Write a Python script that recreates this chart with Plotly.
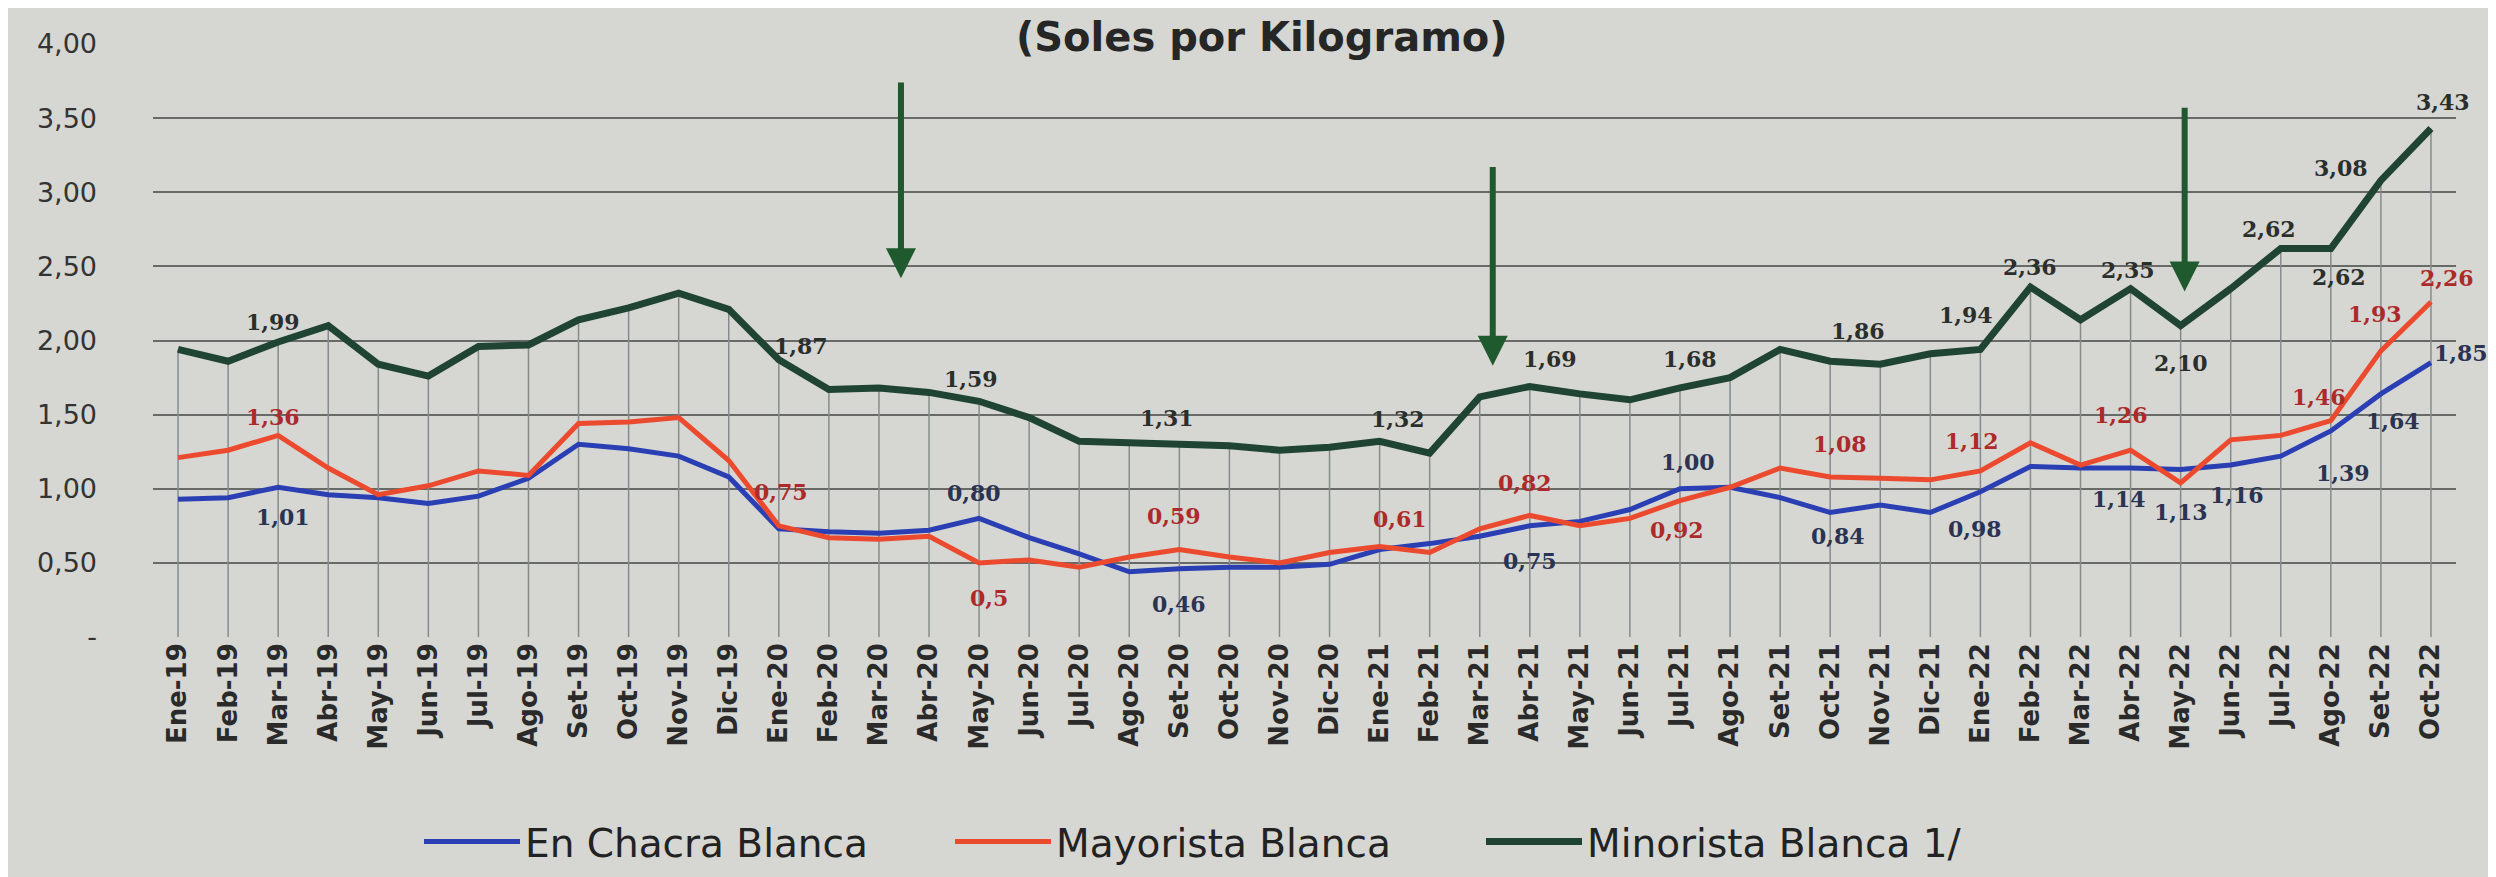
import plotly.graph_objects as go

# ---------------- data ----------------
months = ["Ene-19","Feb-19","Mar-19","Abr-19","May-19","Jun-19","Jul-19","Ago-19","Set-19","Oct-19","Nov-19","Dic-19",
          "Ene-20","Feb-20","Mar-20","Abr-20","May-20","Jun-20","Jul-20","Ago-20","Set-20","Oct-20","Nov-20","Dic-20",
          "Ene-21","Feb-21","Mar-21","Abr-21","May-21","Jun-21","Jul-21","Ago-21","Set-21","Oct-21","Nov-21","Dic-21",
          "Ene-22","Feb-22","Mar-22","Abr-22","May-22","Jun-22","Jul-22","Ago-22","Set-22","Oct-22"]

chacra = [0.93, 0.94, 1.01, 0.96, 0.94, 0.90, 0.95, 1.07, 1.30, 1.27, 1.22, 1.08,
          0.73, 0.71, 0.70, 0.72, 0.80, 0.67, 0.56, 0.44, 0.46, 0.47, 0.47, 0.49,
          0.59, 0.63, 0.68, 0.75, 0.78, 0.86, 1.00, 1.01, 0.94, 0.84, 0.89, 0.84,
          0.98, 1.15, 1.14, 1.14, 1.13, 1.16, 1.22, 1.39, 1.64, 1.85]

mayorista = [1.21, 1.26, 1.36, 1.14, 0.96, 1.02, 1.12, 1.09, 1.44, 1.45, 1.48, 1.19,
             0.75, 0.67, 0.66, 0.68, 0.50, 0.52, 0.47, 0.54, 0.59, 0.54, 0.50, 0.57,
             0.61, 0.57, 0.73, 0.82, 0.75, 0.80, 0.92, 1.01, 1.14, 1.08, 1.07, 1.06,
             1.12, 1.31, 1.16, 1.26, 1.04, 1.33, 1.36, 1.46, 1.93, 2.26]

minorista = [1.94, 1.86, 1.99, 2.10, 1.84, 1.76, 1.96, 1.97, 2.14, 2.22, 2.32, 2.21,
             1.87, 1.67, 1.68, 1.65, 1.59, 1.48, 1.32, 1.31, 1.31, 1.29, 1.26, 1.28,
             1.32, 1.24, 1.62, 1.69, 1.64, 1.60, 1.68, 1.75, 1.94, 1.86, 1.84, 1.91,
             1.94, 2.36, 2.14, 2.35, 2.10, 2.35, 2.62, 2.62, 3.08, 3.43]

series_names = ["En Chacra Blanca", "Mayorista Blanca", "Minorista Blanca 1/"]

# data labels (index of month, text shown)
lbl_chacra_idx = [2, 16, 20, 27, 30, 33, 36, 39, 40, 41, 43, 44, 45]
lbl_chacra_txt = ["1,01", "0,80", "0,46", "0,75", "1,00", "0,84", "0,98", "1,14", "1,13", "1,16", "1,39", "1,64", "1,85"]

lbl_mayorista_idx = [2, 12, 16, 20, 24, 27, 30, 33, 36, 39, 43, 44, 45]
lbl_mayorista_txt = ["1,36", "0,75", "0,5", "0,59", "0,61", "0,82", "0,92", "1,08", "1,12", "1,26", "1,46", "1,93", "2,26"]

lbl_minorista_idx = [2, 12, 16, 20, 24, 27, 30, 33, 36, 37, 39, 40, 42, 43, 44, 45]
lbl_minorista_txt = ["1,99", "1,87", "1,59", "1,31", "1,32", "1,69", "1,68", "1,86", "1,94", "2,36", "2,35", "2,10",
                     "2,62", "2,62", "3,08", "3,43"]

y_tickvals = [0, 0.5, 1.0, 1.5, 2.0, 2.5, 3.0, 3.5, 4.0]
y_ticktext = ["-", "0,50", "1,00", "1,50", "2,00", "2,50", "3,00", "3,50", "4,00"]

title_text = "(Soles por Kilogramo)"

# ---------------- styles ----------------
BG = "#d6d6d2"
GRID = "#676a67"
C_BLUE = "#2b3fb5"
C_RED = "#ec4a2e"
C_GREEN = "#1f4434"
LBL_FONT = "DejaVu Serif"

# label pixel offsets (dx, dy), dy positive = up
off_chacra = {2: (5, -30), 16: (-5, 25), 20: (0, -35), 27: (0, -35), 30: (8, 27), 33: (8, -24),
              36: (-5, -37), 39: (-12, -31), 40: (0, -43), 41: (6, -30), 43: (12, -42), 44: (12, -27),
              45: (30, 10)}
off_mayorista = {2: (-5, 18), 12: (2, 34), 16: (10, -35), 20: (-5, 34), 24: (20, 28), 27: (-5, 32),
                 30: (-3, -29), 33: (10, 33), 36: (-8, 30), 39: (-10, 35), 43: (-12, 24), 44: (-6, 37),
                 45: (16, 24)}
off_minorista = {2: (-5, 20), 12: (22, 14), 16: (-8, 22), 20: (-12, 25), 24: (18, 22), 27: (20, 27),
                 30: (10, 29), 33: (28, 30), 36: (-14, 34), 37: (0, 20), 39: (-3, 19), 40: (0, -37),
                 42: (-12, 20), 43: (8, -28), 44: (-40, 12), 45: (12, 27)}

fig = go.Figure()

# drop lines from axis up to the highest series
dx, dy = [], []
for m, v in zip(months, minorista):
    dx += [m, m, None]
    dy += [0, v, None]
fig.add_trace(go.Scatter(x=dx, y=dy, mode="lines", line=dict(color="#878b90", width=1.5),
                         showlegend=False, hoverinfo="skip"))

series = [
    (chacra, series_names[0], C_BLUE, 5, "#2a3352", lbl_chacra_idx, lbl_chacra_txt, off_chacra),
    (mayorista, series_names[1], C_RED, 5, "#ad2a2a", lbl_mayorista_idx, lbl_mayorista_txt, off_mayorista),
    (minorista, series_names[2], C_GREEN, 7, "#2b2f2c", lbl_minorista_idx, lbl_minorista_txt, off_minorista),
]
for vals, name, col, w, tcol, idx, txt, off in series:
    fig.add_trace(go.Scatter(
        x=months, y=vals, name=name, mode="lines",
        line=dict(color=col, width=w), hoverinfo="x+y+name",
    ))
    for i, t in zip(idx, txt):
        ox, oy = off[i]
        fig.add_annotation(x=months[i], y=vals[i], text=t, showarrow=False,
                           xshift=ox, yshift=oy, xanchor="center", yanchor="middle",
                           font=dict(family=LBL_FONT, size=22, color=tcol, weight="bold"))

# arrows (style/layout annotations)
arrows = [(14.44, 2.42, 3.75), (26.26, 1.83, 3.18), (40.08, 2.33, 3.58)]
for ax_x, tip, tail in arrows:
    fig.add_annotation(x=ax_x, y=tip, ax=ax_x, ay=tail, xref="x", yref="y", axref="x", ayref="y",
                       text="", showarrow=True, arrowhead=2, arrowsize=1.0, arrowwidth=6,
                       arrowcolor="#1f5a2e")

# title at the top
fig.add_annotation(text="<b>" + title_text + "</b>", xref="paper", yref="paper", x=0.4815, y=1.012,
                   xanchor="center", yanchor="middle", showarrow=False,
                   font=dict(family="DejaVu Sans", size=40, color="#262626"))

fig.update_layout(
    width=2496, height=877,
    margin=dict(l=145, r=48, t=36, b=241),
    paper_bgcolor=BG, plot_bgcolor=BG,
    showlegend=True,
    legend=dict(orientation="h", x=0.1155, xanchor="left", y=-0.345, yanchor="middle",
                font=dict(family="DejaVu Sans", size=39, color="#222222"),
                itemwidth=96, entrywidth=420, entrywidthmode="pixels", bgcolor="rgba(0,0,0,0)"),
    xaxis=dict(type="category", categoryorder="array", categoryarray=months,
               tickangle=-90, tickfont=dict(family="DejaVu Sans", size=26, color="#2a2a2a", weight="bold"),
               showgrid=False, showline=False, zeroline=False, ticks="",
               range=[-0.5, len(months) - 0.5]),
    yaxis=dict(range=[0, 4], tickvals=y_tickvals, ticktext=y_ticktext,
               tickfont=dict(family="DejaVu Sans", size=27, color="#333333"),
               showgrid=True, gridcolor=GRID, gridwidth=2, zeroline=False, showline=False,
               ticklabelstandoff=55),
)

fig.write_html("out.html")
